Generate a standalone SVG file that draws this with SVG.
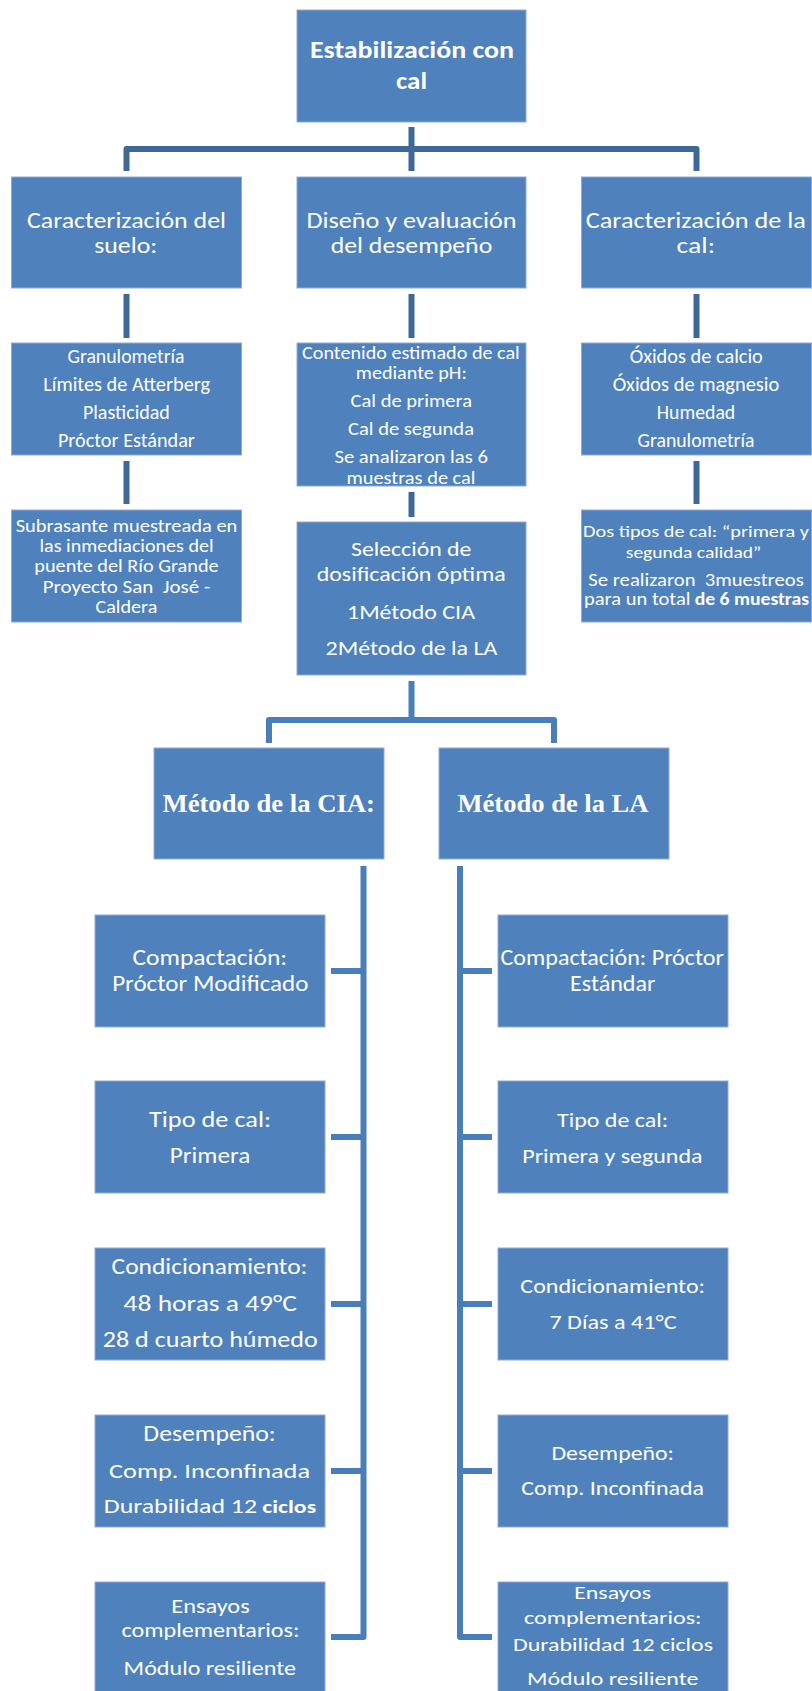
<svg xmlns="http://www.w3.org/2000/svg" width="812" height="1691" viewBox="0 0 812 1691">
<style>
.box{fill:#4F81BD;stroke:#8FAAD6;stroke-width:1}
.t{fill:#FFFFFF;font-family:Carlito,Lato,"Liberation Sans",sans-serif;text-anchor:middle}
.ts{fill:#FFFFFF;font-family:Carlito,Lato,"Liberation Sans",sans-serif;text-anchor:start}
.b{font-weight:bold}
.serif{fill:#FFFFFF;font-family:"Liberation Serif","Times New Roman",serif;font-weight:bold;text-anchor:middle}
.c1{fill:none;stroke:#3F6899;stroke-width:6;stroke-linejoin:round}
.c2{fill:none;stroke:#4A7EBB;stroke-width:6;stroke-linejoin:round}
</style>
<rect width="812" height="1691" fill="#FFFFFF"/>
<g id="connectors">
<path class="c1" d="M411.5 127V149M126.5 171V149H696.5V171M411.5 149V171"/>
<path class="c1" d="M126.5 294V338M411.5 294V338M696.5 294V338"/>
<path class="c1" d="M126.5 461V504M696.5 461V504M411.5 492V517"/>
<path class="c2" d="M411.5 681V720M269 743V720H554V743"/>
<path class="c2" d="M363.5 866V1637H331M331 971H363.5M331 1137H363.5M331 1304H363.5M331 1471H363.5"/>
<path class="c2" d="M460 866V1637H492M460 971H492M460 1137H492M460 1304H492M460 1471H492"/>
</g>
<g id="n-top">
<rect class="box" x="297" y="10" width="229" height="112"/>
<text class="t b" font-size="24" x="412" y="58" textLength="204" lengthAdjust="spacingAndGlyphs">Estabilización con</text>
<text class="t b" font-size="24" x="411.5" y="89" textLength="31" lengthAdjust="spacingAndGlyphs">cal</text>
</g>
<g id="n-suelo">
<rect class="box" x="11.5" y="177" width="230" height="111"/>
<text class="t" font-size="22.5" x="126.5" y="228" textLength="199" lengthAdjust="spacingAndGlyphs">Caracterización del</text>
<text class="t" font-size="22.5" x="125.7" y="253" textLength="63" lengthAdjust="spacingAndGlyphs">suelo:</text>
</g>
<g id="n-diseno">
<rect class="box" x="297" y="177" width="229" height="111"/>
<text class="t" font-size="22.5" x="411.5" y="228" textLength="210" lengthAdjust="spacingAndGlyphs">Diseño y evaluación</text>
<text class="t" font-size="22.5" x="411.5" y="253" textLength="161.5" lengthAdjust="spacingAndGlyphs">del desempeño</text>
</g>
<g id="n-calchar">
<rect class="box" x="581.5" y="177" width="230" height="111"/>
<text class="t" font-size="22.5" x="695.8" y="228" textLength="220" lengthAdjust="spacingAndGlyphs">Caracterización de la</text>
<text class="t" font-size="22.5" x="695.8" y="253" textLength="38.5" lengthAdjust="spacingAndGlyphs">cal:</text>
</g>
<g id="n-ensayos-suelo">
<rect class="box" x="11.5" y="343" width="230" height="112"/>
<text class="t" font-size="19.5" x="126" y="363" textLength="117" lengthAdjust="spacingAndGlyphs">Granulometría</text>
<text class="t" font-size="19.5" x="126.7" y="391" textLength="167" lengthAdjust="spacingAndGlyphs">Límites de Atterberg</text>
<text class="t" font-size="19.5" x="126.4" y="419" textLength="87" lengthAdjust="spacingAndGlyphs">Plasticidad</text>
<text class="t" font-size="19.5" x="126.4" y="447" textLength="137" lengthAdjust="spacingAndGlyphs">Próctor Estándar</text>
</g>
<g id="n-contenido">
<rect class="box" x="297" y="343" width="229" height="143"/>
<text class="t" font-size="18.5" x="410.9" y="359" textLength="217.7" lengthAdjust="spacingAndGlyphs">Contenido estimado de cal</text>
<text class="t" font-size="18.5" x="411.3" y="379" textLength="111" lengthAdjust="spacingAndGlyphs">mediante pH:</text>
<text class="t" font-size="18.5" x="411.3" y="407" textLength="121.5" lengthAdjust="spacingAndGlyphs">Cal de primera</text>
<text class="t" font-size="18.5" x="411" y="435" textLength="126" lengthAdjust="spacingAndGlyphs">Cal de segunda</text>
<text class="t" font-size="18.5" x="411.2" y="463" textLength="153.6" lengthAdjust="spacingAndGlyphs">Se analizaron las 6</text>
<text class="t" font-size="18.5" x="411" y="484" textLength="129" lengthAdjust="spacingAndGlyphs">muestras de cal</text>
</g>
<g id="n-ensayos-cal">
<rect class="box" x="581.5" y="343" width="230" height="112"/>
<text class="t" font-size="19.5" x="696.3" y="363" textLength="133" lengthAdjust="spacingAndGlyphs">Óxidos de calcio</text>
<text class="t" font-size="19.5" x="696" y="391" textLength="166.6" lengthAdjust="spacingAndGlyphs">Óxidos de magnesio</text>
<text class="t" font-size="19.5" x="696" y="419" textLength="78.4" lengthAdjust="spacingAndGlyphs">Humedad</text>
<text class="t" font-size="19.5" x="696" y="447" textLength="116.8" lengthAdjust="spacingAndGlyphs">Granulometría</text>
</g>
<g id="n-subrasante">
<rect class="box" x="11.5" y="510" width="230" height="112"/>
<text class="t" font-size="18.5" x="126.5" y="532" textLength="221.7" lengthAdjust="spacingAndGlyphs">Subrasante muestreada en</text>
<text class="t" font-size="18.5" x="126.5" y="552" textLength="174" lengthAdjust="spacingAndGlyphs">las inmediaciones del</text>
<text class="t" font-size="18.5" x="126.5" y="572" textLength="184.3" lengthAdjust="spacingAndGlyphs">puente del Río Grande</text>
<text class="t" font-size="18.5" x="126.5" y="592.7" textLength="167.7" lengthAdjust="spacingAndGlyphs">Proyecto San&#160; José -</text>
<text class="t" font-size="18.5" x="126.4" y="612.7" textLength="61.8" lengthAdjust="spacingAndGlyphs">Caldera</text>
</g>
<g id="n-seleccion">
<rect class="box" x="297" y="522" width="229" height="153"/>
<text class="t" font-size="21" x="411.2" y="556" textLength="120.4" lengthAdjust="spacingAndGlyphs">Selección de</text>
<text class="t" font-size="21" x="411.2" y="581" textLength="189" lengthAdjust="spacingAndGlyphs">dosificación óptima</text>
<text class="t" font-size="21" x="411" y="618.7" textLength="128" lengthAdjust="spacingAndGlyphs">1Método CIA</text>
<text class="t" font-size="21" x="411.5" y="655.3" textLength="172" lengthAdjust="spacingAndGlyphs">2Método de la LA</text>
</g>
<g id="n-tipos">
<rect class="box" x="581.5" y="510" width="230" height="112"/>
<text class="t" font-size="16.5" x="696" y="537" textLength="226" lengthAdjust="spacingAndGlyphs">Dos tipos de cal: “primera y</text>
<text class="t" font-size="16.5" x="693.5" y="558" textLength="135.5" lengthAdjust="spacingAndGlyphs">segunda calidad”</text>
<text class="t" font-size="19" x="696" y="586" textLength="215.4" lengthAdjust="spacingAndGlyphs">Se realizaron&#160; 3muestreos</text>
<text class="ts" font-size="19" x="584" y="605" textLength="106.5" lengthAdjust="spacingAndGlyphs">para un total</text>
<text class="ts b" font-size="17" x="694.7" y="605" textLength="114.3" lengthAdjust="spacingAndGlyphs">de 6 muestras</text>
</g>
<g id="n-cia">
<rect class="box" x="154" y="748" width="230" height="111"/>
<text class="serif" font-size="25" x="268.7" y="811.7" textLength="212.4" lengthAdjust="spacingAndGlyphs">Método de la CIA:</text>
</g>
<g id="n-la">
<rect class="box" x="439" y="748" width="230" height="111"/>
<text class="serif" font-size="25" x="553" y="811.7" textLength="191" lengthAdjust="spacingAndGlyphs">Método de la LA</text>
</g>
<g id="n-cia-compactacion">
<rect class="box" x="95" y="915" width="230" height="112"/>
<text class="t" font-size="23" x="209.8" y="965" textLength="154.7" lengthAdjust="spacingAndGlyphs">Compactación:</text>
<text class="t" font-size="23" x="210.3" y="990.7" textLength="196.3" lengthAdjust="spacingAndGlyphs">Próctor Modificado</text>
</g>
<g id="n-cia-tipo">
<rect class="box" x="95" y="1081" width="230" height="112"/>
<text class="t" font-size="22" x="210" y="1126.7" textLength="122" lengthAdjust="spacingAndGlyphs">Tipo de cal:</text>
<text class="t" font-size="22" x="210" y="1162.7" textLength="80.5" lengthAdjust="spacingAndGlyphs">Primera</text>
</g>
<g id="n-cia-condicionamiento">
<rect class="box" x="95" y="1248" width="230" height="112"/>
<text class="t" font-size="23" x="209.5" y="1274.3" textLength="195.8" lengthAdjust="spacingAndGlyphs">Condicionamiento:</text>
<text class="t" font-size="23" x="210.3" y="1311" textLength="173.4" lengthAdjust="spacingAndGlyphs">48 horas a 49°C</text>
<text class="t" font-size="23" x="210.3" y="1347.3" textLength="215" lengthAdjust="spacingAndGlyphs">28 d cuarto húmedo</text>
</g>
<g id="n-cia-desempeno">
<rect class="box" x="95" y="1415" width="230" height="112"/>
<text class="t" font-size="22.5" x="209.5" y="1441" textLength="132.4" lengthAdjust="spacingAndGlyphs">Desempeño:</text>
<text class="t" font-size="21" x="209.5" y="1477.7" textLength="201" lengthAdjust="spacingAndGlyphs">Comp. Inconfinada</text>
<text class="ts" font-size="21" x="103.8" y="1513.3" textLength="153.2" lengthAdjust="spacingAndGlyphs">Durabilidad 12</text>
<text class="ts b" font-size="18.5" x="262.2" y="1513.3" textLength="54" lengthAdjust="spacingAndGlyphs">ciclos</text>
</g>
<g id="n-cia-ensayos">
<rect class="box" x="95" y="1582" width="230" height="112"/>
<text class="t" font-size="19.5" x="210.5" y="1612.7" textLength="78.4" lengthAdjust="spacingAndGlyphs">Ensayos</text>
<text class="t" font-size="19.5" x="210.5" y="1637.3" textLength="178" lengthAdjust="spacingAndGlyphs">complementarios:</text>
<text class="t" font-size="19.5" x="209.8" y="1675" textLength="172.4" lengthAdjust="spacingAndGlyphs">Módulo resiliente</text>
</g>
<g id="n-la-compactacion">
<rect class="box" x="498" y="915" width="230" height="112"/>
<text class="t" font-size="22" x="612.2" y="965" textLength="223.3" lengthAdjust="spacingAndGlyphs">Compactación: Próctor</text>
<text class="t" font-size="22" x="612.7" y="990.7" textLength="85.3" lengthAdjust="spacingAndGlyphs">Estándar</text>
</g>
<g id="n-la-tipo">
<rect class="box" x="498" y="1081" width="230" height="112"/>
<text class="t" font-size="21" x="612.6" y="1126.7" textLength="111.2" lengthAdjust="spacingAndGlyphs">Tipo de cal:</text>
<text class="t" font-size="21" x="612.4" y="1162.7" textLength="180.2" lengthAdjust="spacingAndGlyphs">Primera y segunda</text>
</g>
<g id="n-la-condicionamiento">
<rect class="box" x="498" y="1248" width="230" height="112"/>
<text class="t" font-size="21" x="612.7" y="1293.3" textLength="184.7" lengthAdjust="spacingAndGlyphs">Condicionamiento:</text>
<text class="t" font-size="21" x="613" y="1328.7" textLength="127.2" lengthAdjust="spacingAndGlyphs">7 Días a 41°C</text>
</g>
<g id="n-la-desempeno">
<rect class="box" x="498" y="1415" width="230" height="112"/>
<text class="t" font-size="20.4" x="612.7" y="1459.7" textLength="122.6" lengthAdjust="spacingAndGlyphs">Desempeño:</text>
<text class="t" font-size="19.5" x="612.7" y="1495" textLength="182.7" lengthAdjust="spacingAndGlyphs">Comp. Inconfinada</text>
</g>
<g id="n-la-ensayos">
<rect class="box" x="498" y="1582" width="230" height="112"/>
<text class="t" font-size="19" x="612.6" y="1599.3" textLength="76.8" lengthAdjust="spacingAndGlyphs">Ensayos</text>
<text class="t" font-size="19" x="612.8" y="1624.3" textLength="177.5" lengthAdjust="spacingAndGlyphs">complementarios:</text>
<text class="t" font-size="19" x="613" y="1651" textLength="200" lengthAdjust="spacingAndGlyphs">Durabilidad 12 ciclos</text>
<text class="t" font-size="19" x="612.7" y="1685.3" textLength="171.3" lengthAdjust="spacingAndGlyphs">Módulo resiliente</text>
</g>
</svg>
